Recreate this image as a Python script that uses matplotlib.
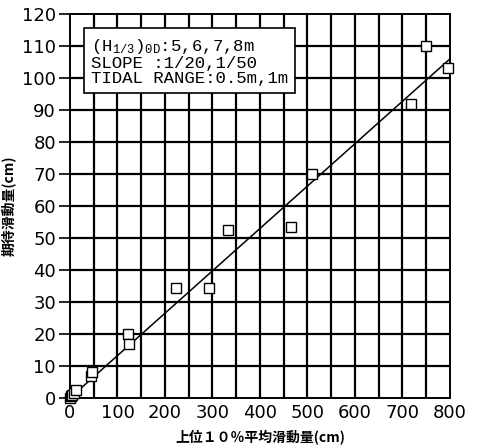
import matplotlib

matplotlib.use("Agg")
import matplotlib.pyplot as plt

# measured values (cm)
top10_mean = [0, 3, 5, 8, 12, 45, 47, 123, 125, 223, 293, 333, 465, 510, 718, 750, 795]
expected = [0, 0.5, 1, 1.5, 2.5, 7, 8, 20, 17, 34.5, 34.5, 52.5, 53.5, 70, 92, 110, 103]

# regression line end points
fit_x = [0, 800]
fit_y = [0, 106]

x_ticks = [0, 100, 200, 300, 400, 500, 600, 700, 800]
y_ticks = [0, 10, 20, 30, 40, 50, 60, 70, 80, 90, 100, 110, 120]
x_grid = [50, 100, 150, 200, 250, 300, 350, 400, 450, 500, 550, 600, 650, 700, 750]

JP = ["Noto Sans CJK JP", "DejaVu Sans"]
plt.rcParams["mathtext.fontset"] = "custom"
plt.rcParams["mathtext.rm"] = "Liberation Mono"

fig = plt.figure(figsize=(4.78, 4.48), dpi=100)
ax = fig.add_axes([0.1464, 0.1116, 0.795, 0.857])

# grid
ax.vlines(x_grid, 0, 120, colors="black", linewidths=1.6, zorder=1.5)
ax.hlines(y_ticks[1:-1], 0, 800, colors="black", linewidths=1.6, zorder=1.5)

ax.plot(top10_mean, expected, "s", mfc="white", mec="black", ms=7, mew=1.0,
        zorder=3, clip_on=False)
ax.plot(fit_x, fit_y, color="black", lw=1.1, zorder=2)

ax.set_xlim(0, 800)
ax.set_ylim(0, 120)
ax.set_xticks(x_ticks)
ax.set_yticks(y_ticks)
for s in ax.spines.values():
    s.set_linewidth(1.4)
ax.tick_params(direction="out", length=8, width=1.2, labelsize=13, pad=2)
ax.tick_params(axis="x", length=0, pad=4)

ax.set_xlabel("上位１０％平均滑動量(cm)", family=JP, fontsize=10,
              fontweight="bold", labelpad=6)
ax.set_ylabel("期待滑動量(cm)", family=JP, fontsize=10,
              fontweight="bold", labelpad=4)

ax.text(0.055, 0.94,
        "$\\mathrm{(H_{1/3})_{0D}}$:5,6,7,8m\nSLOPE :1/20,1/50\nTIDAL RANGE:0.5m,1m",
        transform=ax.transAxes, ha="left", va="top", family="Liberation Mono",
        fontsize=12.5, linespacing=1.0,
        bbox=dict(boxstyle="square,pad=0.4", fc="white", ec="black", lw=1.2),
        zorder=5)

fig.savefig("out.png", dpi=100)
